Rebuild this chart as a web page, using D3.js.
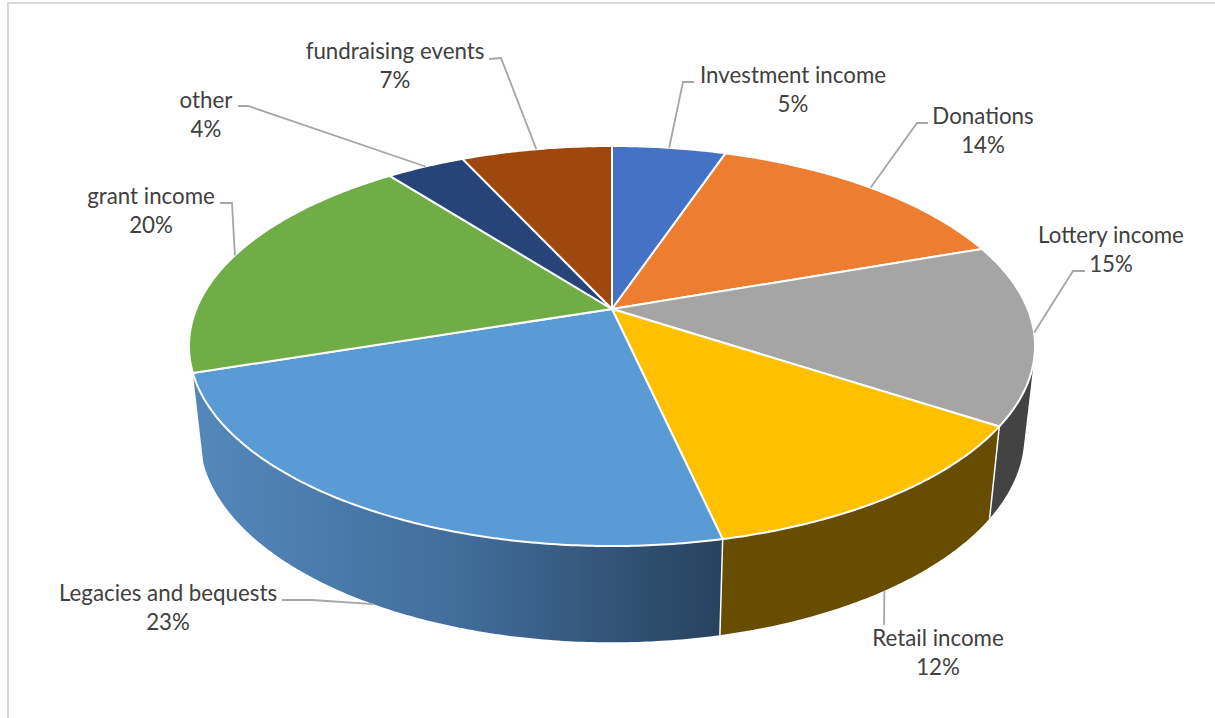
<!DOCTYPE html>
<html>
<head>
<meta charset="utf-8">
<script src="https://cdn.jsdelivr.net/npm/d3@7"></script>
<style>
    html, body { margin: 0; padding: 0; background: #fff; }
    text { font-family: Lato, "Open Sans", sans-serif; fill: #404040; }
</style>
</head>
<body>
<div id="chart"></div>
<script>
// DATA
const categories = ["Investment income", "Donations", "Lottery income", "Retail income",
    "Legacies and bequests", "grant income", "other", "fundraising events"];
// the labels show these rounded
const shares = [5.2, 14.45, 14.55, 12.3, 23.45, 19.55, 3.6, 6.9];
const topColors = ["#4472c4", "#ed7d31", "#a5a5a5", "#ffc000", "#5b9bd5", "#70ad47", "#264478", "#9e480e"];

// LAYOUT
const w = 1215, h = 718;
const cx = 612, cy = 309;
// perspective of the pie disc
const persp = -0.185, kx = 415.7, ky = 193.2;
// bottom rim relative to the top rim
const rimScaleX = 0.975, rimScaleY = 1.035, rimDrop = 88;
// label centre + elbow of the leader line, same order as categories
const labelAt = [[793, 83], [983, 124], [1111, 243], [938, 646], [168, 601], [151, 204], [206, 108], [395, 59]];
const elbowAt = [[[683, 82], [694, 82]], [[917, 123], [928, 123]], [[1073, 271], [1085, 271]], [[884, 625]],
    [[312, 600], [282, 600]], [[232, 203], [220, 203]], [[248, 106], [238, 106]], [[501, 58], [489, 59]]];
const lineGap = 29;

const svg = d3.select("#chart").append("svg")
    .attr("width", w)
    .attr("height", h)
    .style("display", "block");

// frame of the chart area, runs off the right and the bottom
svg.append("path")
    .attr("d", d3.line()([[w, 3], [8, 3], [8, h]]))
    .attr("fill", "none")
    .attr("stroke", "#d9d9d9")
    .attr("stroke-width", 2);

const grad = svg.append("defs").append("linearGradient")
    .attr("id", "legaciesWall")
    .attr("gradientUnits", "userSpaceOnUse")
    .attr("x1", 203).attr("x2", 721)
    .attr("y1", 0).attr("y2", 0);
grad.append("stop").attr("offset", "0%").attr("stop-color", "#5387ba");
grad.append("stop").attr("offset", "50%").attr("stop-color", "#416d9a");
grad.append("stop").attr("offset", "100%").attr("stop-color", "#27425e");

const wallColors = { 2: "#434343", 3: "#664d00", 4: "url(#legaciesWall)" };

const slices = d3.pie().sort(null)(shares);
const line = d3.line();

// angle on the disc (0 = top, clockwise) to flat offsets from the apex
function flat(a) {
    const u = Math.sin(a), v = -Math.cos(a);
    const d = 1 + persp * v;
    return [kx * u / d, ky * v / d];
}
function topRim(a) {
    const p = flat(a);
    return [cx + p[0], cy + p[1]];
}
function bottomRim(a) {
    const p = flat(a);
    return [cx + p[0] * rimScaleX, cy + p[1] * rimScaleY + rimDrop];
}
function angles(a0, a1) {
    const n = Math.max(2, Math.ceil((a1 - a0) / 0.01));
    return d3.range(n + 1).map(i => a0 + (a1 - a0) * i / n);
}

// WALLS, one path of small quads, all wound the same way so the fold at the side still fills
function wallPath(a0, a1) {
    const as = angles(a0, a1);
    let out = "";
    d3.pairs(as).forEach(([p, q]) => {
        let quad = [topRim(p), topRim(q), bottomRim(q), bottomRim(p)];
        if (d3.polygonArea(quad) < 0) quad = quad.reverse();
        out += line(quad) + "Z";
    });
    return out;
}

slices.forEach(s => {
    if (!wallColors[s.index]) return;
    svg.append("path")
        .attr("d", wallPath(s.startAngle, s.endAngle))
        .attr("fill", wallColors[s.index]);
});

// white seams between the walls
[slices[2].endAngle, slices[3].endAngle].forEach(a => {
    svg.append("path")
        .attr("d", line([topRim(a), bottomRim(a)]))
        .attr("stroke", "#fff")
        .attr("stroke-width", 1.5);
});

// TOP FACE
svg.selectAll(".slice")
    .data(slices)
    .enter().append("path")
    .attr("class", "slice")
    .attr("d", d => line([[cx, cy]].concat(angles(d.startAngle, d.endAngle).map(topRim))) + "Z")
    .attr("fill", d => topColors[d.index])
    .attr("stroke", "#fff")
    .attr("stroke-width", 2)
    .attr("stroke-linejoin", "round");

// LEADERS, retail and legacies start on the lower rim
svg.selectAll(".leader")
    .data(slices)
    .enter().append("path")
    .attr("class", "leader")
    .attr("d", d => {
        const mid = (d.startAngle + d.endAngle) / 2;
        const start = (d.index == 3 || d.index == 4) ? bottomRim(mid) : topRim(mid);
        return line([start].concat(elbowAt[d.index]));
    })
    .attr("fill", "none")
    .attr("stroke", "#a6a6a6")
    .attr("stroke-width", 1.8);

// LABELS
const labels = svg.selectAll(".label")
    .data(slices)
    .enter().append("text")
    .attr("class", "label")
    .attr("text-anchor", "middle")
    .attr("font-size", 22.3);
labels.append("tspan")
    .attr("x", d => labelAt[d.index][0])
    .attr("y", d => labelAt[d.index][1])
    .text(d => categories[d.index]);
labels.append("tspan")
    .attr("x", d => labelAt[d.index][0])
    .attr("y", d => labelAt[d.index][1] + lineGap)
    .text(d => Math.round(d.value) + "%");
</script>
</body>
</html>
